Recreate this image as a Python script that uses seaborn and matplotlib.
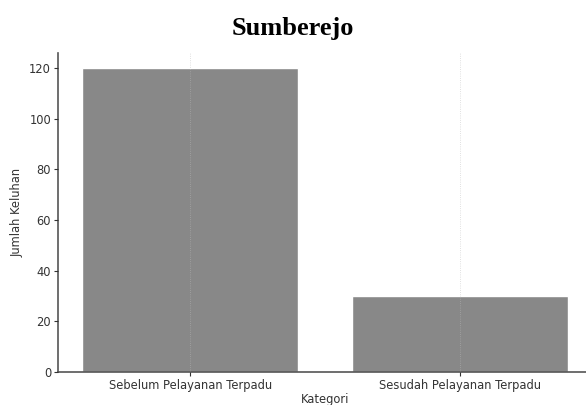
import pandas as pd
import matplotlib
matplotlib.use("Agg")
import matplotlib.pyplot as plt
import seaborn as sns

categories = ["Sebelum Pelayanan Terpadu", "Sesudah Pelayanan Terpadu"]
complaints = [120, 30]

df = pd.DataFrame({"Kategori": categories, "Jumlah Keluhan": complaints})

sns.set_style("white")
plt.rcParams['font.family'] = ['DejaVu Sans']

fig = plt.figure(figsize=(5.86, 4.05), dpi=100)
# right edge sits slightly past the figure, like the cropped original
ax = fig.add_axes([0.099, 0.0815, 0.911, 0.7877])

sns.barplot(x="Kategori", y="Jumlah Keluhan", data=df, ax=ax,
            color="#888888", saturation=1, width=0.8)

ax.set_xlim(-0.49, 1.49)
ax.set_ylim(0, 126)
ax.set_yticks([0, 20, 40, 60, 80, 100, 120])
ax.xaxis.grid(True, linestyle=":", color="#bbbbbb", linewidth=0.6, alpha=0.6)
ax.yaxis.grid(False)
ax.set_axisbelow(False)

for side in ["top", "right"]:
  ax.spines[side].set_visible(False)
for side in ["left", "bottom"]:
  ax.spines[side].set_color("#555555")
  ax.spines[side].set_linewidth(1.2)

ax.tick_params(axis="both", labelsize=8.3, colors="#333333", length=3, width=0.8,
               left=True, bottom=True, pad=2)
ax.set_xlabel("Kategori", fontsize=8.3, color="#333333", labelpad=1)
ax.set_ylabel("Jumlah Keluhan", fontsize=8.3, color="#333333", labelpad=4)

fig.text(0.5, 0.93, "Sumberejo", ha="center", va="center", fontsize=19,
         fontweight="bold", color="black",
         family=["Liberation Serif", "DejaVu Serif"])

fig.savefig("out.png", dpi=100)
